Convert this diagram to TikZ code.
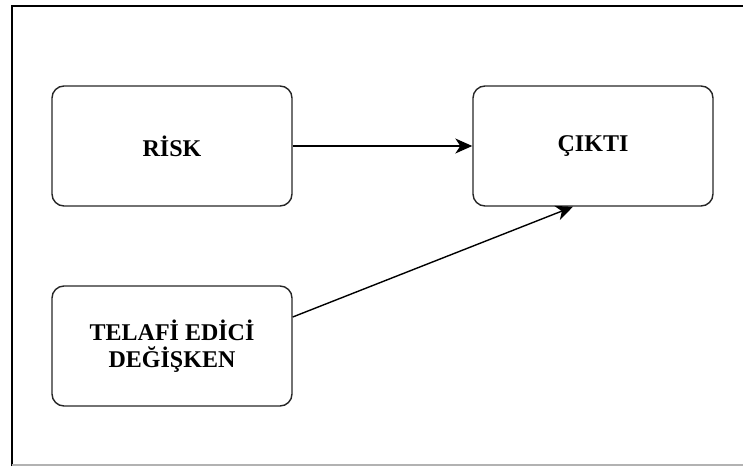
\documentclass[tikz,border=0pt]{standalone}
\usepackage{fontspec}
\setmainfont{Liberation Serif}
\usetikzlibrary{arrows.meta}
\begin{document}
\begin{tikzpicture}[x=1pt,y=-1pt,
  box/.style={draw=black!85,line width=1.4pt,rounded corners=12pt,
    minimum width=240pt,minimum height=120pt,inner sep=0pt,align=center,
    font=\fontsize{24}{27.5}\selectfont\bfseries},
  conn/.style={draw=black,line width=1.4pt,
    -{Stealth[length=17pt,width=15pt,inset=5pt]}}]
\useasboundingbox (0,0) rectangle (743,466);
% frame
\draw[black,line width=2pt] (11.5,466) -- (11.5,5.5) -- (743,5.5);
\draw[black!30,line width=1.5pt] (11.5,465) -- (743,465);
% nodes
\node[box] (r) at (172,146) {RİSK};
\node[box] (c) at (593,146) {ÇIKTI};
\node[box] (t) at (172,346) {TELAFİ EDİCİ\\DEĞİŞKEN};
% connectors
\draw[conn] (r.east) -- (c.west);
\draw[conn] ([yshift=29pt]t.east) -- ([xshift=-20pt]c.south);
\end{tikzpicture}
\end{document}
